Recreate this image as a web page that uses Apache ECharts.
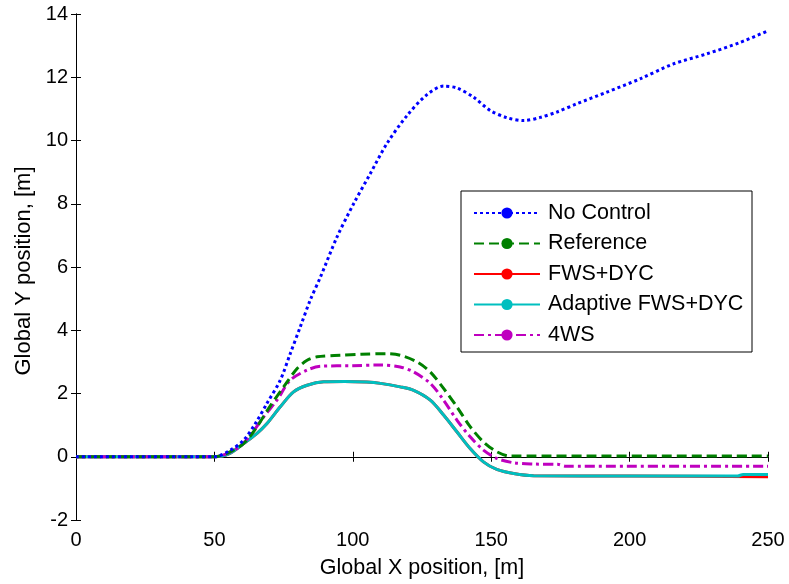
<!DOCTYPE html>
<html>
<head>
<meta charset="utf-8">
<script src="https://cdn.jsdelivr.net/npm/echarts@6/dist/echarts.min.js"></script>
<style>html,body{margin:0;padding:0;background:#fff;}#c{width:789px;height:584px;}</style>
</head>
<body>
<div id="c"></div>
<script>
var xTicks = [0, 50, 100, 150, 200, 250];
var yTicks = [-2, 0, 2, 4, 6, 8, 10, 12, 14];

var noCtrlX = [0, 50, 55.8, 60.6, 64.8, 69, 73.8, 77.4, 81, 84.6, 88.3, 94.3, 100.3, 106.3, 112.3, 119.6, 126.8, 132.8, 137.6, 143.6, 149.6, 155.7, 161.7, 167.7, 173.7, 180.9, 191.8, 203.8, 215.8, 227.9, 239.9, 250];
var noCtrlY = [0, 0, 0.21, 0.53, 1.05, 1.69, 2.42, 3.26, 4.1, 4.95, 5.68, 6.95, 8.0, 8.95, 9.9, 10.79, 11.45, 11.72, 11.66, 11.37, 10.95, 10.72, 10.63, 10.73, 10.9, 11.16, 11.53, 11.95, 12.42, 12.74, 13.1, 13.47];

var refX = [0, 50, 55.8, 60.6, 65.4, 69.6, 75, 79.9, 83.5, 87.1, 95.5, 103, 112.3, 117.1, 123.2, 128, 132.8, 137.6, 142.4, 147.2, 152, 156.9, 250];
var refY = [0, 0, 0.16, 0.42, 0.95, 1.53, 2.21, 2.79, 3.05, 3.16, 3.21, 3.24, 3.26, 3.21, 3.0, 2.68, 2.16, 1.58, 0.95, 0.47, 0.16, 0.02, 0.02];

var fwsX = [0, 50, 55, 60.6, 65.4, 69, 73.8, 78.6, 83.5, 89.5, 97, 105, 110, 117.1, 122, 128, 132.8, 137.6, 142.4, 147.2, 152, 158.1, 165.3, 200, 250];
var fwsY = [0, 0, 0.08, 0.42, 0.74, 1.05, 1.58, 2.05, 2.26, 2.37, 2.38, 2.36, 2.32, 2.21, 2.1, 1.79, 1.32, 0.79, 0.26, -0.16, -0.4, -0.53, -0.6, -0.61, -0.63];

var adaptX = [0, 50, 55, 60.6, 65.4, 69, 73.8, 78.6, 83.5, 89.5, 97, 105, 110, 117.1, 122, 128, 132.8, 137.6, 142.4, 147.2, 152, 158.1, 165.3, 200, 239, 241, 250];
var adaptY = [0, 0, 0.08, 0.42, 0.74, 1.05, 1.58, 2.05, 2.26, 2.37, 2.38, 2.36, 2.32, 2.21, 2.1, 1.79, 1.32, 0.79, 0.26, -0.16, -0.4, -0.53, -0.6, -0.61, -0.61, -0.56, -0.56];

var ws4X = [0, 50, 57, 61.8, 67.8, 72.6, 77.4, 83.5, 88.3, 100, 110, 117.1, 122, 128, 132.8, 137.6, 142.4, 147.2, 152, 158.1, 165.3, 174, 177, 250];
var ws4Y = [0, 0, 0.2, 0.55, 1.26, 1.79, 2.42, 2.74, 2.86, 2.88, 2.9, 2.84, 2.68, 2.32, 1.79, 1.16, 0.63, 0.21, -0.05, -0.19, -0.23, -0.24, -0.3, -0.3];

var names = ['No Control', 'Reference', 'FWS+DYC', 'Adaptive FWS+DYC', '4WS'];

function pairs(xs, ys) { return xs.map(function (x, i) { return [x, ys[i]]; }); }

var FONT = 'Liberation Sans';
var chart = echarts.init(document.getElementById('c'));

function mkSeries(name, xs, ys, color, dash) {
  return {
    name: name, type: 'line', data: pairs(xs, ys), smooth: 0.3,
    symbol: 'circle', symbolSize: 9, showSymbol: false,
    itemStyle: { color: color },
    lineStyle: { color: color, width: 3, type: dash, cap: 'butt' },
    z: 2, animation: false, silent: true
  };
}

var option = {
  animation: false,
  grid: { left: 76, right: 21, top: 14, bottom: 64, containLabel: false },
  xAxis: [{
    type: 'value', min: 0, max: 250, interval: 50,
    name: 'Global X position, [m]', nameLocation: 'middle', nameGap: 37,
    nameTextStyle: { fontFamily: FONT, fontSize: 21.5, color: '#000' },
    axisLine: { lineStyle: { color: '#000', width: 1 } },
    axisTick: { inside: true, length: 5, lineStyle: { color: '#000' } },
    axisLabel: { fontFamily: FONT, fontSize: 20, color: '#000', margin: 10 },
    splitLine: { show: false }
  }, {
    type: 'value', min: 0, max: 250, interval: 50, position: 'top',
    axisLine: { show: true, lineStyle: { color: '#000', width: 1 } },
    axisTick: { inside: true, length: 5, lineStyle: { color: '#000' } },
    axisLabel: { show: false }, splitLine: { show: false }
  }],
  yAxis: [{
    type: 'value', min: -2, max: 14, interval: 2,
    name: 'Global Y position, [m]', nameLocation: 'middle', nameGap: 41, nameRotate: 90,
    nameTextStyle: { fontFamily: FONT, fontSize: 22, color: '#000', padding: [0, 8, 0, 0] },
    axisLine: { show: true, lineStyle: { color: '#000', width: 1 } },
    axisTick: { show: true, inside: true, length: 5, lineStyle: { color: '#000' } },
    axisLabel: { fontFamily: FONT, fontSize: 20, color: '#000', margin: 8 },
    splitLine: { show: false }
  }, {
    type: 'value', min: -2, max: 14, interval: 2, position: 'right',
    axisLine: { show: true, lineStyle: { color: '#000', width: 1 } },
    axisTick: { show: true, inside: true, length: 5, lineStyle: { color: '#000' } },
    axisLabel: { show: false }, splitLine: { show: false }
  }],
  graphic: [{
    type: 'rect', z: 3, silent: true,
    shape: { x: 461, y: 191, width: 291, height: 161 },
    style: { fill: '#fff', stroke: '#000', lineWidth: 1 }
  }],
  legend: {
    data: names, orient: 'vertical', left: 461, top: 191, z: 4,
    padding: [11, 10, 8, 12], itemWidth: 66, itemHeight: 14, itemGap: 8.5,
    textStyle: { fontFamily: FONT, fontSize: 21.5, color: '#000', lineHeight: 21, padding: [0, 0, 0, 3] },
    selectedMode: false
  },
  series: [
    mkSeries(names[2], fwsX, fwsY, '#ff0000', 'solid'),
    mkSeries(names[3], adaptX, adaptY, '#00bfbf', 'solid'),
    mkSeries(names[4], ws4X, ws4Y, '#bf00bf', [10, 4, 3, 4]),
    mkSeries(names[1], refX, refY, '#008000', [10, 5]),
    mkSeries(names[0], noCtrlX, noCtrlY, '#0000ff', [3, 3])
  ]
};
chart.setOption(option);
</script>
</body>
</html>
